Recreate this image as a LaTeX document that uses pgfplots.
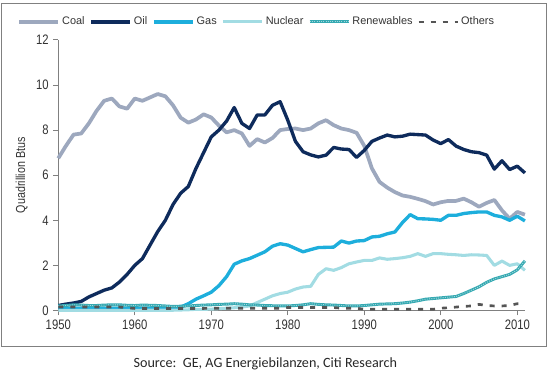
\documentclass[border=0pt]{standalone}
\usepackage{pgfplots}
\pgfplotsset{compat=1.18}
\usepackage{pgfplotstable}
\usepackage{fontspec}
\setmainfont{Liberation Sans}
\newfontfamily\narrowfont{Liberation Sans}[FakeStretch=0.82]
\newfontfamily\srcfont{Carlito}
\definecolor{coalc}{HTML}{9DA8BE}
\definecolor{oilc}{HTML}{0E2B5C}
\definecolor{gasc}{HTML}{1DAEDC}
\definecolor{nucc}{HTML}{A2DCE3}
\definecolor{renc}{HTML}{35A9B2}
\definecolor{othc}{HTML}{555555}
\definecolor{axc}{HTML}{808080}
\definecolor{txc}{HTML}{333333}

\pgfplotstableread{
year coal oil gas nuclear renew others
1950 6.75 0.22 0.10 0.00 0.20 0.15
1951 7.30 0.28 0.10 0.00 0.22 0.15
1952 7.80 0.33 0.10 0.00 0.25 0.15
1953 7.85 0.40 0.10 0.00 0.24 0.15
1954 8.30 0.60 0.10 0.00 0.22 0.15
1955 8.85 0.75 0.10 0.00 0.22 0.15
1956 9.30 0.90 0.10 0.00 0.24 0.15
1957 9.40 1.00 0.10 0.00 0.25 0.15
1958 9.05 1.26 0.10 0.00 0.25 0.15
1959 8.95 1.60 0.10 0.00 0.23 0.12
1960 9.40 2.00 0.10 0.00 0.22 0.09
1961 9.30 2.30 0.10 0.01 0.24 0.09
1962 9.45 2.90 0.10 0.01 0.23 0.09
1963 9.60 3.50 0.10 0.01 0.22 0.09
1964 9.50 4.00 0.10 0.01 0.20 0.09
1965 9.10 4.70 0.12 0.01 0.18 0.09
1966 8.55 5.20 0.15 0.02 0.19 0.09
1967 8.33 5.50 0.30 0.03 0.20 0.09
1968 8.47 6.30 0.50 0.05 0.22 0.09
1969 8.70 7.00 0.65 0.05 0.24 0.09
1970 8.56 7.70 0.81 0.06 0.25 0.10
1971 8.20 8.00 1.10 0.08 0.27 0.10
1972 7.90 8.40 1.50 0.10 0.28 0.10
1973 8.00 9.00 2.05 0.12 0.30 0.10
1974 7.85 8.30 2.20 0.15 0.28 0.10
1975 7.30 8.07 2.30 0.20 0.25 0.10
1976 7.60 8.67 2.45 0.35 0.24 0.10
1977 7.45 8.67 2.60 0.50 0.22 0.10
1978 7.65 9.10 2.85 0.65 0.21 0.10
1979 8.00 9.26 2.96 0.75 0.20 0.10
1980 8.05 8.44 2.90 0.81 0.20 0.13
1981 8.07 7.50 2.75 0.95 0.22 0.13
1982 8.00 7.04 2.60 1.04 0.25 0.13
1983 8.07 6.90 2.70 1.07 0.30 0.13
1984 8.30 6.81 2.79 1.60 0.27 0.13
1985 8.44 6.89 2.80 1.85 0.25 0.13
1986 8.22 7.23 2.81 1.78 0.24 0.13
1987 8.07 7.16 3.08 1.90 0.22 0.10
1988 8.00 7.14 2.99 2.07 0.20 0.10
1989 7.88 6.79 3.08 2.15 0.20 0.10
1990 7.30 7.10 3.10 2.22 0.22 0.05
1991 6.30 7.50 3.26 2.22 0.25 0.05
1992 5.70 7.65 3.29 2.33 0.28 0.05
1993 5.45 7.78 3.40 2.27 0.29 0.05
1994 5.25 7.70 3.48 2.30 0.30 0.05
1995 5.10 7.73 3.90 2.34 0.33 0.05
1996 5.04 7.82 4.25 2.40 0.37 0.05
1997 4.95 7.80 4.07 2.52 0.43 0.05
1998 4.85 7.78 4.06 2.40 0.50 0.05
1999 4.70 7.56 4.04 2.52 0.53 0.05
2000 4.80 7.40 4.00 2.52 0.56 0.10
2001 4.86 7.58 4.22 2.49 0.59 0.12
2002 4.86 7.29 4.22 2.47 0.62 0.15
2003 4.96 7.14 4.30 2.44 0.75 0.18
2004 4.80 7.04 4.34 2.47 0.90 0.20
2005 4.60 7.00 4.37 2.46 1.05 0.27
2006 4.77 6.89 4.37 2.44 1.25 0.22
2007 4.90 6.27 4.22 2.00 1.40 0.20
2008 4.44 6.64 4.15 2.19 1.50 0.20
2009 4.07 6.25 4.00 2.00 1.60 0.22
2010 4.37 6.40 4.18 2.07 1.80 0.30
2011 4.25 6.10 3.97 1.78 2.20 0.30
}\datatable

\begin{document}
\begin{tikzpicture}
\path[use as bounding box] (0,0) rectangle (412.5pt,282.75pt);
\draw[axc, line width=0.75pt] (1.1pt,22.5pt) rectangle (409.9pt,279.75pt);
\begin{axis}[
  at={(43.7pt,49.9pt)}, anchor=south west,
  scale only axis, width=350pt, height=202.9pt,
  xmin=1950, xmax=2011, ymin=0, ymax=12,
  axis x line*=bottom, axis y line*=left,
  axis line style={axc, line width=0.75pt},
  tick style={axc, line width=0.75pt},
  tick align=outside, major tick length=3.75pt,
  xtick={1950,1960,...,2010}, ytick={0,2,...,12},
  minor tick num=0,
  ticklabel style={font=\narrowfont\fontsize{10.3}{12}\selectfont, text=txc},
  /pgf/number format/assume math mode=true,
  x tick label style={/pgf/number format/1000 sep=},
  ylabel={Quadrillion Btus},
  ylabel style={at={(axis description cs:-0.0784,0.5)}, anchor=center, rotate=0,
    font=\narrowfont\fontsize{9.8}{11}\selectfont, text=txc},
  clip=false,
  legend columns=6,
  legend cell align=left,
  legend image code/.code={\draw[#1] (0pt,0pt) -- (29.5pt,0pt);},
  legend style={at={(axis description cs:-0.0885,1.0665)}, anchor=west,
    draw=none, fill=none, inner sep=0pt, column sep=0pt,
    /tikz/every even column/.append style={column sep=2.2pt},
    nodes={inner xsep=1.4pt, inner ysep=0pt, font=\fontsize{8.2}{10}\selectfont, text=txc}},
]
\addplot[coalc, line width=2.8pt, line join=round] table[x=year,y=coal]{\datatable};
\addlegendentry{Coal}
\addplot[oilc, line width=2.5pt, line join=round] table[x=year,y=oil]{\datatable};
\addlegendentry{Oil}
\addplot[gasc, line width=2.5pt, line join=round] table[x=year,y=gas]{\datatable};
\addlegendentry{Gas}
\addplot[nucc, line width=2.3pt, line join=round] table[x=year,y=nuclear]{\datatable};
\addlegendentry{Nuclear}
\addplot[renc, line width=2.2pt, line join=round,
  postaction={draw=white!55!renc, line width=0.7pt, dash pattern=on 0.7pt off 1pt}] table[x=year,y=renew]{\datatable};
\addlegendentry{Renewables}
\addplot[othc, line width=2pt, dash pattern=on 3.75pt off 5.25pt] table[x=year,y=others]{\datatable};
\addlegendentry{Others}
\end{axis}
\node[anchor=base west, font=\srcfont\fontsize{10.6}{13}\selectfont, text=black!85, inner sep=0pt] at (100pt,7.3pt) {Source:\ \ GE, AG Energiebilanzen, Citi Research};
\end{tikzpicture}
\end{document}
